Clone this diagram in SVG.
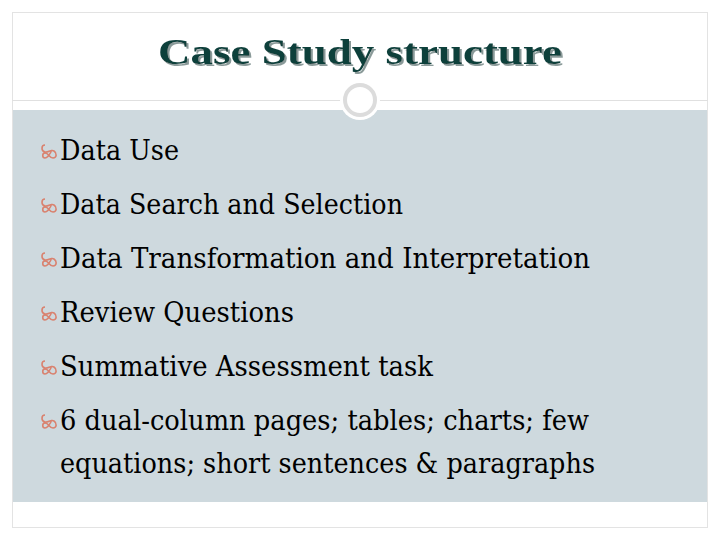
<svg xmlns="http://www.w3.org/2000/svg" width="720" height="540" viewBox="0 0 720 540">
<defs>
<style>
.t{font-family:"DejaVu Serif","Liberation Serif",serif;font-size:27px;fill:#000}
.b{fill:none;stroke:#d9826f;stroke-width:1.6}
</style>
<filter id="sh" x="-10%" y="-30%" width="120%" height="160%"><feDropShadow dx="2" dy="2" stdDeviation="0.3" flood-color="#8a9a99"/></filter>
<g id="bul"><path class="b" d="M0,-6 c-4,0 -4,6 0,7 c3,1 6,-3 9,-1 c3,2 3,7 -1,7 c-4,0 -4,-5 -8,-5 c-3,0 -3,5 0,5 c3,0 5,-4 7,-8"/></g>
</defs>
<rect x="0" y="0" width="720" height="540" fill="#fff"/>
<rect x="12.5" y="12.5" width="695" height="515" fill="#fff" stroke="#e3e3e3"/>
<line x1="12" y1="100.5" x2="708" y2="100.5" stroke="#e0e0e0"/>
<rect x="13" y="110" width="694" height="392" fill="#ced9de"/>
<g id="title">
<text x="158" y="64" textLength="404" lengthAdjust="spacingAndGlyphs" font-family="Liberation Serif,serif" font-weight="bold" font-size="36" fill="#0e3f3b" filter="url(#sh)">Case Study structure</text>
</g>
<circle cx="360" cy="100" r="20" fill="#fff"/>
<circle cx="360" cy="100" r="15" fill="#fff" stroke="#dcdcdc" stroke-width="4"/>
<g id="n1"><use href="#bul" x="45" y="151"/><text class="t" x="60" y="160" textLength="119" lengthAdjust="spacingAndGlyphs">Data Use</text></g>
<g id="n2"><use href="#bul" x="45" y="205"/><text class="t" x="60" y="214" textLength="343" lengthAdjust="spacingAndGlyphs">Data Search and Selection</text></g>
<g id="n3"><use href="#bul" x="45" y="259"/><text class="t" x="60" y="268" textLength="530" lengthAdjust="spacingAndGlyphs">Data Transformation and Interpretation</text></g>
<g id="n4"><use href="#bul" x="45" y="313"/><text class="t" x="60" y="322" textLength="234" lengthAdjust="spacingAndGlyphs">Review Questions</text></g>
<g id="n5"><use href="#bul" x="45" y="367"/><text class="t" x="60" y="376" textLength="373" lengthAdjust="spacingAndGlyphs">Summative Assessment task</text></g>
<g id="n6"><use href="#bul" x="45" y="421"/><text class="t" x="60" y="430" textLength="529" lengthAdjust="spacingAndGlyphs">6 dual-column pages; tables; charts; few</text><text class="t" x="60" y="473" textLength="535" lengthAdjust="spacingAndGlyphs">equations; short sentences &amp; paragraphs</text></g>
<g id="connectors"/>
</svg>
